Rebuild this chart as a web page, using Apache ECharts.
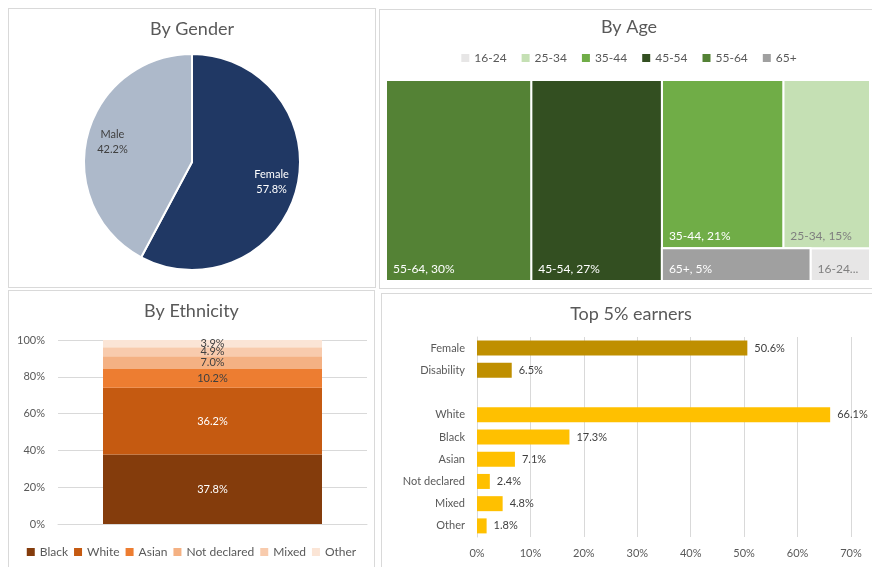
<!DOCTYPE html>
<html>
<head>
<meta charset="utf-8">
<script src="https://cdn.jsdelivr.net/npm/echarts@6/dist/echarts.min.js"></script>
<style>
  html, body { margin: 0; padding: 0; background: #fff; overflow: hidden; }
  body { width: 872px; height: 567px; position: relative; }
  .panel { position: absolute; border: 1px solid #d9d9d9; box-sizing: border-box; }
  #gender { left: 8px; top: 8px; width: 368px; height: 280px; }
  #age { left: 379px; top: 9px; width: 500px; height: 280px; }
  #ethnicity { left: 8px; top: 290px; width: 367px; height: 290px; }
  #earners { left: 381px; top: 293px; width: 500px; height: 290px; }
</style>
</head>
<body>
<div class="panel" id="gender"></div>
<div class="panel" id="age"></div>
<div class="panel" id="ethnicity"></div>
<div class="panel" id="earners"></div>
<script>
const genderLabels = ["Female", "Male"];
const genderShares = [57.8, 42.2];
const genderColors = ["#203864", "#ADB9CA"];
const genderTextColors = ["#fff", "#404040"];

const ageBands = ["16-24", "25-34", "35-44", "45-54", "55-64", "65+"];
const ageShares = [2, 15, 21, 27, 30, 5];
const ageColors = ["#E7E6E6", "#C5E0B4", "#70AD47", "#334F21", "#548235", "#A0A0A0"];
const ageTextColors = ["#7F7F7F", "#7F7F7F", "#fff", "#fff", "#fff", "#fff"];

const ethnicGroups = ["Black", "White", "Asian", "Not declared", "Mixed", "Other"];
const ethnicShares = [37.8, 36.2, 10.2, 7.0, 4.9, 3.9];
const ethnicColors = ["#843C0C", "#C55A11", "#ED7D31", "#F4B183", "#F8CBAD", "#FBE5D6"];
const ethnicTextColors = ["#fff", "#fff", "#404040", "#404040", "#404040", "#404040"];

const earnerGroups = ["Female", "Disability", "", "White", "Black", "Asian", "Not declared", "Mixed", "Other"];
const earnerShares = [50.6, 6.5, null, 66.1, 17.3, 7.1, 2.4, 4.8, 1.8];
const earnerColors = ["#BF8F00", "#BF8F00", null, "#FFC000", "#FFC000", "#FFC000", "#FFC000", "#FFC000", "#FFC000"];

const FONT = "Lato, 'Liberation Sans', sans-serif";
const GREY = "#595959";
const chartRegistry = new Map();

function fmtPct(value) {
  return `${Number(value).toFixed(1)}%`;
}

function renderChart(elId, option) {
  const el = document.getElementById(elId);
  if (!el) return;
  const chart = echarts.init(el, null, { renderer: "canvas" });
  chart.setOption(option);
  chartRegistry.set(elId, chart);
}

function panelTitle(text, top) {
  return {
    text,
    left: "center",
    top,
    padding: 0,
    textStyle: { fontFamily: FONT, fontSize: 18, fontWeight: "normal", color: GREY },
  };
}

// squarified layout, rows kept horizontal until the region is clearly wider than tall (like Excel)
function worstRatio(row, area, side) {
  const thick = area / side;
  return Math.max(...row.map((it) => {
    const len = it.a / thick;
    return Math.max(len / thick, thick / len);
  }));
}

function layoutTreemap(values, w, h) {
  const total = values.reduce((s, v) => s + v, 0);
  const items = values
    .map((v, i) => ({ i, a: (v / total) * w * h }))
    .sort((p, q) => q.a - p.a);
  const rects = [];
  let x = 0;
  let y = 0;
  let k = 0;
  while (k < items.length) {
    const column = w > h * 1.05;
    const side = column ? h : w;
    const row = [items[k]];
    let rowArea = items[k].a;
    let best = worstRatio(row, rowArea, side);
    let j = k + 1;
    while (j < items.length) {
      const nextArea = rowArea + items[j].a;
      const score = worstRatio(row.concat(items[j]), nextArea, side);
      if (score > best) break;
      row.push(items[j]);
      rowArea = nextArea;
      best = score;
      j++;
    }
    const thick = j === items.length ? (column ? w : h) : rowArea / side;
    let offset = 0;
    row.forEach((it) => {
      const len = it.a / thick;
      rects[it.i] = column ? [x, y + offset, thick, len] : [x + offset, y, len, thick];
      offset += len;
    });
    if (column) { x += thick; w -= thick; } else { y += thick; h -= thick; }
    k = j;
  }
  return rects;
}

let ageRects = null;
function renderAgeCell(params, api) {
  const cs = params.coordSys;
  if (!ageRects) ageRects = layoutTreemap(ageShares, cs.width, cs.height);
  const i = params.seriesIndex;
  const [rx, ry, rw, rh] = ageRects[i];
  const p0 = api.coord([rx / cs.width, ry / cs.height]);
  const p1 = api.coord([(rx + rw) / cs.width, (ry + rh) / cs.height]);
  const cw = p1[0] - p0[0];
  const ch = p1[1] - p0[1];
  return {
    type: "group",
    children: [
      {
        type: "rect",
        shape: { x: p0[0], y: p0[1], width: cw, height: ch },
        style: { fill: ageColors[i], stroke: "#fff", lineWidth: 2 },
      },
      {
        type: "text",
        x: p0[0] + 7,
        y: p0[1] + ch - 6,
        style: {
          text: `${ageBands[i]}, ${ageShares[i]}%`,
          fill: ageTextColors[i],
          font: `12px ${FONT}`,
          verticalAlign: "bottom",
          width: cw - 16,
          overflow: "truncate",
          ellipsis: "...",
        },
      },
    ],
  };
}

// By Gender
renderChart("gender", {
  animation: false,
  textStyle: { fontFamily: FONT },
  title: panelTitle("By Gender", 11),
  series: [
    {
      type: "pie",
      center: [183, 153],
      radius: 108,
      startAngle: 90,
      silent: true,
      label: { show: false },
      labelLine: { show: false },
      itemStyle: { borderColor: "#fff", borderWidth: 2 },
      data: genderLabels.map((name, i) => ({
        name,
        value: genderShares[i],
        itemStyle: { color: genderColors[i] },
      })),
    },
    {
      type: "pie",
      center: [183, 153],
      radius: [50, 108],
      startAngle: 90,
      silent: true,
      itemStyle: { color: "transparent" },
      label: {
        show: true,
        position: "inside",
        fontFamily: FONT,
        fontSize: 11,
        lineHeight: 15,
        formatter: (p) => `${p.name}\n${fmtPct(p.value)}`,
      },
      data: genderLabels.map((name, i) => ({
        name,
        value: genderShares[i],
        label: { color: genderTextColors[i] },
      })),
    },
  ],
});

// By Age
renderChart("age", {
  animation: false,
  textStyle: { fontFamily: FONT },
  title: panelTitle("By Age", 8),
  legend: {
    data: ageBands,
    top: 42,
    left: "center",
    padding: 0,
    icon: "rect",
    itemWidth: 8,
    itemHeight: 8,
    itemGap: 15,
    selectedMode: false,
    textStyle: { fontFamily: FONT, fontSize: 12, color: GREY },
  },
  grid: { left: 6, top: 70, width: 484, height: 201 },
  xAxis: { type: "value", min: 0, max: 1, show: false },
  yAxis: { type: "value", min: 0, max: 1, inverse: true, show: false },
  series: ageBands.map((band, i) => ({
    type: "custom",
    name: band,
    silent: true,
    clip: false,
    itemStyle: { color: ageColors[i] },
    renderItem: renderAgeCell,
    data: [ageShares[i]],
  })),
});

// By Ethnicity
renderChart("ethnicity", {
  animation: false,
  textStyle: { fontFamily: FONT },
  title: panelTitle("By Ethnicity", 11),
  legend: {
    data: ethnicGroups,
    top: 255,
    left: "center",
    padding: 0,
    icon: "rect",
    itemWidth: 8,
    itemHeight: 8,
    itemGap: 6,
    selectedMode: false,
    textStyle: { fontFamily: FONT, fontSize: 12, color: GREY },
  },
  grid: { left: 49, top: 49, width: 309, height: 184 },
  xAxis: {
    type: "category",
    data: [""],
    axisLine: { lineStyle: { color: "#d9d9d9" } },
    axisTick: { show: false },
    axisLabel: { show: false },
  },
  yAxis: {
    type: "value",
    min: 0,
    max: 100,
    interval: 20,
    axisLine: { show: false },
    axisTick: { show: false },
    axisLabel: { formatter: "{value}%", fontSize: 11, color: GREY, margin: 13 },
    splitLine: { lineStyle: { color: "#d9d9d9" } },
  },
  series: ethnicGroups.map((name, i) => ({
    type: "bar",
    name,
    stack: "eth",
    barWidth: 219,
    silent: true,
    itemStyle: { color: ethnicColors[i] },
    label: {
      show: true,
      position: "inside",
      fontSize: 11,
      color: ethnicTextColors[i],
      formatter: (p) => fmtPct(p.value),
    },
    data: [ethnicShares[i]],
  })),
});

// Top 5% earners
renderChart("earners", {
  animation: false,
  textStyle: { fontFamily: FONT },
  title: panelTitle("Top 5% earners", 11),
  grid: { left: 95, top: 43, width: 374, height: 200 },
  xAxis: {
    type: "value",
    min: 0,
    max: 70,
    interval: 10,
    axisLine: { show: false },
    axisTick: { show: false },
    axisLabel: { formatter: "{value}%", fontSize: 11, color: GREY, margin: 11 },
    splitLine: { lineStyle: { color: "#d9d9d9" } },
  },
  yAxis: {
    type: "category",
    inverse: true,
    data: earnerGroups,
    axisLine: { lineStyle: { color: "#d9d9d9" } },
    axisTick: { show: false },
    axisLabel: { fontSize: 11, color: GREY, margin: 12 },
  },
  series: [
    {
      type: "bar",
      barWidth: 15,
      silent: true,
      label: {
        show: true,
        position: "right",
        distance: 7,
        fontSize: 11,
        color: "#404040",
        formatter: (p) => fmtPct(p.value),
      },
      data: earnerShares.map((v, i) => (v === null ? null : { value: v, itemStyle: { color: earnerColors[i] } })),
    },
  ],
});

window.addEventListener("resize", () => chartRegistry.forEach((c) => c.resize()));
</script>
</body>
</html>
